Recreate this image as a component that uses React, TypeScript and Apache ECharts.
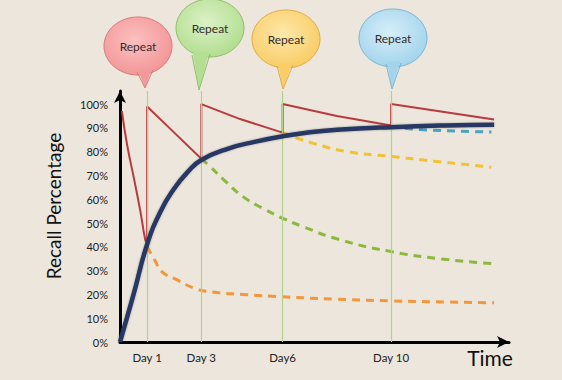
import React, { useEffect, useRef } from "react";
import * as echarts from "echarts";

// Repetition days (green guides) and their labels
const repeatDays = [1, 3, 6, 10];
const dayLabels: Record<number, string> = { 1: "Day 1", 3: "Day 3", 6: "Day6", 10: "Day 10" };
const yTicks = [0, 10, 20, 30, 40, 50, 60, 70, 80, 90, 100];

// [day, recall %]
const firstForgetting: [number, number][] = [
  [0.07, 97], [0.26, 83], [0.51, 69], [0.75, 55], [0.93, 43], [0.98, 42], [1, 42.3],
];
const retentionWithRepeats: [number, number][] = [
  [1, 42.3], [1, 99], [2, 88], [3, 77],
  [3, 100], [4.43, 93.7], [6, 88],
  [6, 100], [8, 95], [10, 91],
  [10, 100], [13.8, 93.5],
];
const learningCurve: [number, number][] = [
  [0, 0], [0.5, 20], [1, 41], [1.5, 55], [2, 64.5], [2.5, 71.5], [3, 76.5],
  [4, 81.3], [5, 84.2], [6, 86.5], [7, 88.2], [8, 89.2], [10, 90.3], [12, 91], [13.8, 91.3],
];
const forgetAfterDay1: [number, number][] = [
  [1, 40], [1.3, 34], [1.55, 29.5], [2.03, 26.5], [2.77, 22.5], [3.4, 21], [4.5, 20], [6, 19], [8, 18], [10, 17.3], [12, 16.8], [13.8, 16.5],
];
const forgetAfterDay3: [number, number][] = [
  [3, 77], [3.3, 74], [3.8, 68.5], [4.55, 61], [5.3, 56], [6, 52], [6.7, 48.7], [8.1, 43], [10, 38], [11.8, 35], [13.7, 33],
];
const forgetAfterDay6: [number, number][] = [
  [6, 88], [7.1, 83.6], [8.4, 80], [10, 78], [11.6, 76], [13.7, 73.5],
];
const forgetAfterDay10: [number, number][] = [
  [10, 90.5], [11.2, 89.2], [13.7, 88.3],
];

const bubbles = [
  { cx: 138, cy: 46, tail: [[137, 72], [145, 88], [153, 70]], c0: "#fcc0c0", c1: "#f19092", tc: "#f29a9b", edge: "#d97a7c" },
  { cx: 210, cy: 28, tail: [[192, 55], [199, 90], [210, 54]], c0: "#dcf2c6", c1: "#acda88", tc: "#b4de92", edge: "#8fc06a" },
  { cx: 286, cy: 39, tail: [[277, 66], [283, 89], [293, 65]], c0: "#fee8aa", c1: "#f8c85c", tc: "#f9cd68", edge: "#e0ad45" },
  { cx: 393, cy: 38, tail: [[386, 64], [392, 89], [401, 63]], c0: "#d6eef9", c1: "#9bd0ea", tc: "#a3d4ec", edge: "#7db6d4" },
];

export default function App() {
  const ref = useRef<HTMLDivElement>(null);
  useEffect(() => {
    if (!ref.current) return;
    const chart = echarts.init(ref.current, undefined, { renderer: "svg" });
    const font = "Lato, 'Open Sans', sans-serif";
    const dashed = (color: string, data: [number, number][]) => ({
      type: "line",
      data,
      smooth: true,
      symbol: "none",
      z: 3,
      lineStyle: { color, width: 3, type: [8, 6] },
    });
    const graphics: any[] = [];
    bubbles.forEach((b) => {
      const grad = new echarts.graphic.RadialGradient(0.45, 0.4, 0.7, [
        { offset: 0, color: b.c0 },
        { offset: 1, color: b.c1 },
      ]);
      graphics.push({
        type: "ellipse",
        shape: { cx: b.cx, cy: b.cy, rx: 34, ry: 29 },
        style: { fill: grad, stroke: b.edge, lineWidth: 1 },
        z: 10,
      });
      graphics.push({
        type: "polygon",
        shape: { points: [[b.tail[0][0] + 0.8, b.tail[0][1] - 2], b.tail[1], [b.tail[2][0] - 0.8, b.tail[2][1] - 2]] },
        style: { fill: b.tc },
        z: 11,
      });
      graphics.push({
        type: "polyline",
        shape: { points: b.tail },
        style: { stroke: b.edge, lineWidth: 1, fill: null },
        z: 12,
      });
      graphics.push({
        type: "text",
        x: b.cx,
        y: b.cy,
        style: { text: "Repeat", fontFamily: font, fontSize: 12, fill: "#352c2c", textAlign: "center", textVerticalAlign: "middle", verticalAlign: "middle" },
        z: 13,
      });
    });
    graphics.push({
      type: "text",
      x: 53,
      y: 206,
      rotation: Math.PI / 2,
      style: { text: "Recall Percentage", fontFamily: font, fontSize: 19, fill: "#111", textAlign: "center", textVerticalAlign: "middle", verticalAlign: "middle" },
    });
    graphics.push({
      type: "text",
      x: 490,
      y: 357,
      style: { text: "Time", fontFamily: font, fontSize: 21, fill: "#111", textAlign: "center", textVerticalAlign: "middle", verticalAlign: "middle" },
    });

    chart.setOption({
      animation: false,
      backgroundColor: "#ece6dc",
      grid: { left: 120, top: 91, right: 53, bottom: 38 },
      xAxis: {
        type: "value",
        min: 0,
        max: 14.35,
        interval: 1,
        splitLine: { show: false },
        axisTick: { show: false },
        axisLine: { lineStyle: { color: "#000", width: 3 }, symbol: ["none", "arrow"], symbolSize: [9, 12] },
        axisLabel: {
          margin: 9,
          fontFamily: font,
          fontSize: 11.5,
          color: "#222",
          formatter: (v: number) => dayLabels[Math.round(v * 100) / 100] ?? "",
        },
      },
      yAxis: {
        type: "value",
        min: 0,
        max: 105.5,
        interval: 10,
        splitLine: { show: false },
        axisTick: { show: false },
        axisLine: { lineStyle: { color: "#000", width: 3 }, symbol: ["none", "arrow"], symbolSize: [9, 12] },
        axisLabel: {
          margin: 12,
          fontFamily: font,
          fontSize: 11,
          color: "#222",
          formatter: (v: number) => (yTicks.includes(v) ? v + "%" : ""),
        },
      },
      series: [
        {
          type: "line",
          data: [],
          symbol: "none",
          z: 1,
          markLine: {
            silent: true,
            symbol: "none",
            label: { show: false },
            lineStyle: { color: "#b3d38c", width: 1.2, type: "solid" },
            data: repeatDays.map((d) => ({ xAxis: d })),
          },
        },
        dashed("#f2973c", forgetAfterDay1),
        dashed("#8cb83e", forgetAfterDay3),
        dashed("#f3c232", forgetAfterDay6),
        dashed("#4aa3c2", forgetAfterDay10),
        {
          type: "line",
          data: firstForgetting,
          smooth: true,
          symbol: "none",
          z: 4,
          lineStyle: { color: "#b83a3e", width: 2 },
        },
        {
          type: "line",
          data: retentionWithRepeats,
          symbol: "none",
          z: 4,
          lineStyle: { color: "#b83a3e", width: 2 },
        },
        {
          type: "line",
          data: learningCurve,
          smooth: true,
          symbol: "none",
          z: 5,
          lineStyle: { color: "#283763", width: 4.5, shadowColor: "rgba(0,0,0,0.3)", shadowBlur: 2 },
        },
      ],
      graphic: graphics,
    });
    return () => chart.dispose();
  }, []);
  return <div ref={ref} style={{ position: "fixed", left: 0, top: 0, width: 562, height: 380 }} />;
}
